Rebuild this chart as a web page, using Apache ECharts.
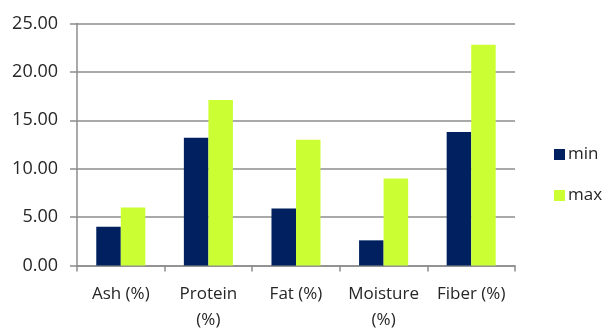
<!DOCTYPE html>
<html>
<head>
<meta charset="utf-8">
<script src="https://cdn.jsdelivr.net/npm/echarts@6/dist/echarts.min.js"></script>
<style>
  html, body { margin: 0; padding: 0; background: #fff; }
  #chart { width: 604px; height: 329px; }
</style>
</head>
<body>
<div id="chart"></div>
<script>
// Composition ranges per component
const categories = ['Ash (%)', 'Protein\n(%)', 'Fat (%)', 'Moisture\n(%)', 'Fiber (%)'];
const minValues = [4.0, 13.2, 5.9, 2.6, 13.8];
const maxValues = [6.0, 17.1, 13.0, 9.0, 22.8];
const yTicks = [0, 5, 10, 15, 20, 25];

const FONT = 'Open Sans';
const TEXT = '#262626';
const LINE = '#8c8c8c';

const chart = echarts.init(document.getElementById('chart'), null, { renderer: 'canvas' });
chart.setOption({
  animation: false,
  backgroundColor: '#ffffff',
  textStyle: { fontFamily: FONT, color: TEXT },
  grid: {
    left: 77, right: 89, top: 23.5, bottom: 63.5,
    containLabel: false, outerBoundsMode: 'none'
  },
  legend: {
    orient: 'vertical',
    left: 549,
    top: 141,
    itemWidth: 11,
    itemHeight: 11,
    itemGap: 24,
    icon: 'rect',
    textStyle: { fontFamily: FONT, fontSize: 17, color: TEXT, padding: [0, 0, 0, -2] },
    data: ['min', 'max']
  },
  xAxis: {
    type: 'category',
    data: categories,
    axisLine: { lineStyle: { color: LINE, width: 1.5 } },
    axisTick: { show: true, length: 6, alignWithLabel: false, lineStyle: { color: LINE, width: 1.5 } },
    axisLabel: { fontFamily: FONT, fontSize: 17, color: TEXT, margin: 16, lineHeight: 26, interval: 0 }
  },
  yAxis: {
    type: 'value',
    min: yTicks[0],
    max: yTicks[yTicks.length - 1],
    interval: 5,
    axisLine: { show: true, lineStyle: { color: LINE, width: 1.5 } },
    axisTick: { show: true, inside: false, length: 7, lineStyle: { color: LINE, width: 1.5 } },
    splitLine: { show: true, lineStyle: { color: LINE, width: 1.5 } },
    axisLabel: {
      fontFamily: FONT, fontSize: 18, color: TEXT, margin: 19,
      formatter: v => v.toFixed(2)
    }
  },
  series: [
    {
      name: 'min', type: 'bar', data: minValues,
      barGap: '0%', barCategoryGap: '44%',
      itemStyle: { color: '#00205f' }
    },
    {
      name: 'max', type: 'bar', data: maxValues,
      barGap: '0%', barCategoryGap: '44%',
      itemStyle: { color: '#ccff33' }
    }
  ]
});
</script>
</body>
</html>
